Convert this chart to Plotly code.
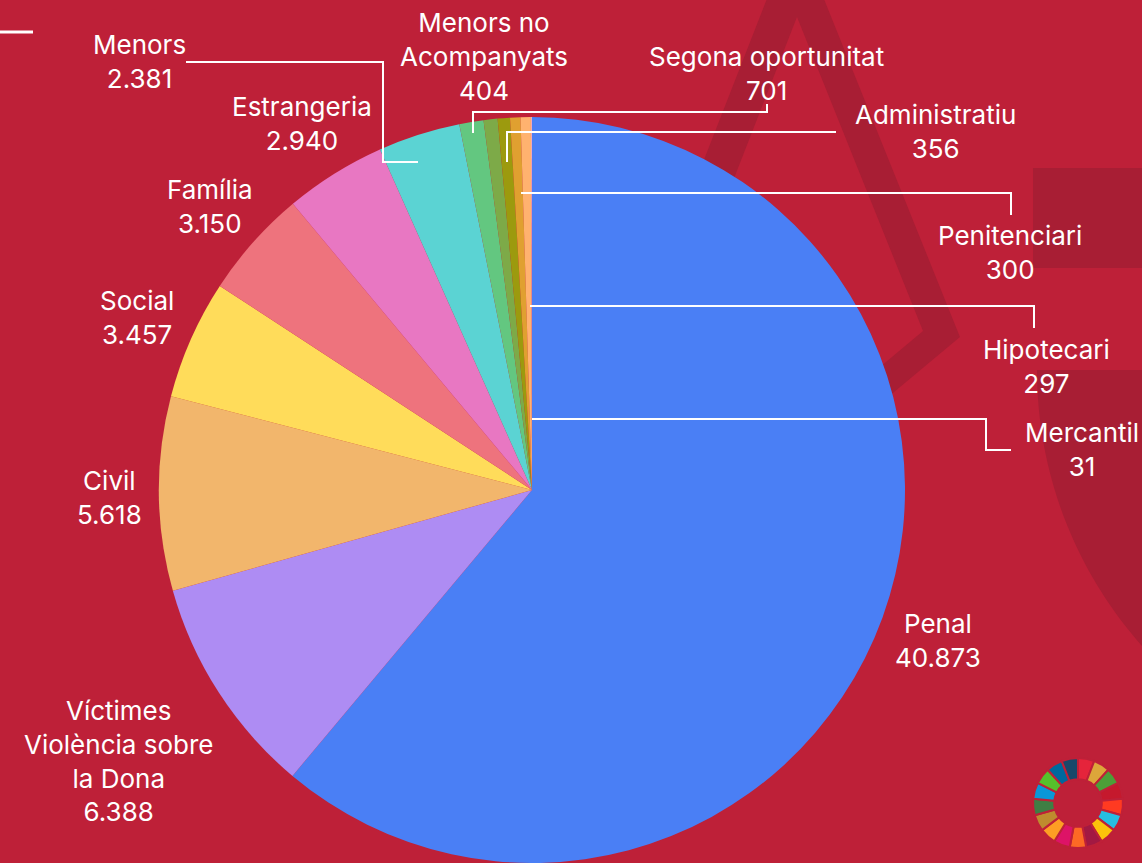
import math
import plotly.graph_objects as go

W, H = 1142, 863

# ---- data ----
categories = ["Penal", "Víctimes Violència sobre la Dona", "Civil", "Social", "Família",
              "Estrangeria", "Menors", "Segona oportunitat", "Menors no Acompanyats",
              "Administratiu", "Penitenciari", "Hipotecari", "Mercantil"]
values = [40873, 6388, 5618, 3457, 3150, 2940, 2381, 701, 404, 356, 300, 297, 31]
display_names = ["Penal", "Víctimes<br>Violència sobre<br>la Dona", "Civil", "Social", "Família",
                 "Estrangeria", "Menors", "Segona oportunitat", "Menors no<br>Acompanyats",
                 "Administratiu", "Penitenciari", "Hipotecari", "Mercantil"]
slice_colors = ["#4A7FF5", "#AE8CF3", "#F2B66C", "#FFDC5A", "#EE737D", "#E877C2", "#5BD3D3",
                "#63C780", "#7DAA48", "#9C9A0E", "#E0A030", "#FFB26F", "#F2A7B5"]

sdg_goals = list(range(1, 18))
sdg_share = [1] * 17
sdg_colors = ["#E5243B", "#DDA63A", "#4C9F38", "#C5192D", "#FF3A21", "#26BDE2", "#FCC30B",
              "#A21942", "#FD6925", "#DD1367", "#FD9D24", "#BF8B2E", "#3F7E44", "#0A97D9",
              "#56C02B", "#00689D", "#19486A"]

BG = "#BE2038"
DARK = "#A81E34"
FONT = "Inter"
FSIZE = 26


def px(x):
    return x / W


def py(y):
    return 1 - y / H


def path(points, close=True):
    s = "M " + " L ".join(f"{px(x):.5f},{py(y):.5f}" for x, y in points)
    return s + (" Z" if close else "")


fig = go.Figure()

# main pie: centre (532,491), radius ~373
fig.add_trace(go.Pie(
    labels=categories, values=values, sort=False, direction="clockwise", rotation=0,
    marker=dict(colors=slice_colors, line=dict(width=0)),
    textinfo="none", showlegend=False,
    domain=dict(x=[px(532 - 374), px(532 + 374)], y=[0, py(117)]),
))

# SDG wheel logo
fig.add_trace(go.Pie(
    labels=[f"ODS {g}" for g in sdg_goals], values=sdg_share, sort=False,
    direction="clockwise", rotation=0, hole=0.53,
    marker=dict(colors=sdg_colors, line=dict(color=BG, width=2)),
    textinfo="none", showlegend=False, hoverinfo="skip",
    domain=dict(x=[px(1078 - 45), px(1078 + 45)], y=[py(803 + 45), py(803 - 45)]),
))

shapes = []
# decorative background triangle outline
outer = [(795, -73), (960, 337), (477, 740)]
inner = [(797, 17), (923, 331), (554, 640)]
shapes.append(dict(type="path", path=path(outer), fillcolor=DARK, line=dict(width=0), layer="below",
                   xref="paper", yref="paper"))
shapes.append(dict(type="path", path=path(inner), fillcolor=BG, line=dict(width=0), layer="below",
                   xref="paper", yref="paper"))
# decorative right-side blocks
shapes.append(dict(type="path", path=path([(1033, 168), (1145, 168), (1145, 268), (1033, 268)]),
                   fillcolor=DARK, line=dict(width=0), layer="below", xref="paper", yref="paper"))
arc = []
cx, cy, R = 1452, 370, 415
for i in range(0, 41):
    a = math.radians(180 - i * 1.2)
    arc.append((cx + R * math.cos(a), cy + R * math.sin(a)))
arc = [(1145, 370), (1037, 370)] + arc[1:] + [(1145, 700)]
arc = [(x, y) for x, y in arc if x <= 1146]
shapes.append(dict(type="path", path=path(arc), fillcolor=DARK, line=dict(width=0), layer="below",
                   xref="paper", yref="paper"))
# short white line top-left
shapes.append(dict(type="line", x0=px(0), x1=px(33), y0=py(32), y1=py(32), xref="paper", yref="paper",
                   line=dict(color="white", width=3)))

# leader lines
leaders = [
    [(186, 62), (383, 62), (383, 162), (418, 162)],
    [(473, 133), (473, 112), (767, 112), (767, 104)],
    [(507, 162), (507, 132), (836, 132)],
    [(521, 193), (1011, 193), (1011, 215)],
    [(530, 306), (1034, 306), (1034, 328)],
    [(532, 419), (986, 419), (986, 450), (1011, 450)],
]
for pts in leaders:
    shapes.append(dict(type="path", path=path(pts, close=False), line=dict(color="white", width=2),
                       xref="paper", yref="paper"))

# label block centres (x, y)
label_pos = {
    "Penal": (938, 640),
    "Víctimes Violència sobre la Dona": (118, 761),
    "Civil": (110, 497),
    "Social": (137, 317),
    "Família": (210, 206),
    "Estrangeria": (302, 124),
    "Menors": (139, 61),
    "Segona oportunitat": (766, 74),
    "Menors no Acompanyats": (484, 56),
    "Administratiu": (935, 132),
    "Penitenciari": (1010, 252),
    "Hipotecari": (1046, 366),
    "Mercantil": (1082, 449),
}


def fmt(v):
    return f"{v:,}".replace(",", ".")


annotations = []
for cat, name, v in zip(categories, display_names, values):
    x, y = label_pos[cat]
    annotations.append(dict(text=name + "<br>" + fmt(v), x=px(x), y=py(y), xref="paper", yref="paper",
                            xanchor="center", yanchor="middle", showarrow=False, align="center",
                            font=dict(family=FONT, size=FSIZE, color="white")))

fig.update_layout(
    width=W, height=H, margin=dict(l=0, r=0, t=0, b=0),
    paper_bgcolor=BG, plot_bgcolor=BG,
    shapes=shapes, annotations=annotations, showlegend=False,
)

fig.write_html("out.html", config={"displayModeBar": False},
               post_script="document.body.style.margin='0';document.body.style.overflow='hidden';")
